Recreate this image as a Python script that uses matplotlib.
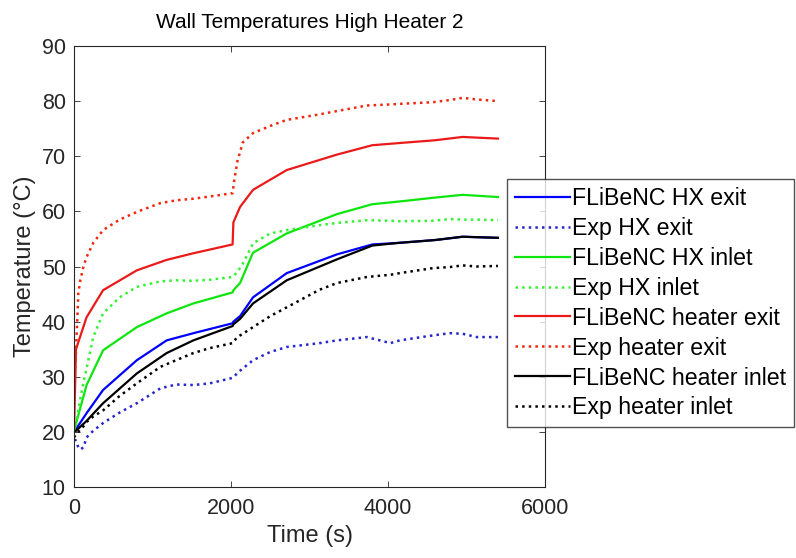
import numpy as np
import matplotlib
matplotlib.use("Agg")
import matplotlib.pyplot as plt

#=========================================================================================
# data (time in s, temperature in degC)
t_sim = [0, 25, 160, 370, 800, 1180, 1520, 2020, 2030, 2115, 2280, 2710, 3350, 3800, 4150, 4600, 4950, 5400]
sim_hx_exit = [20, 20.5, 23.4, 27.6, 33, 36.6, 37.9, 39.7, 40, 41, 44.4, 48.8, 52.2, 54, 54.3, 54.8, 55.4, 55.2]
sim_hx_inlet = [20, 21.5, 28.5, 34.8, 39, 41.5, 43.3, 45.3, 45.7, 47, 52.5, 56, 59.5, 61.3, 61.8, 62.5, 63, 62.6]
sim_heater_exit = [20, 35, 40.8, 45.7, 49.3, 51.2, 52.4, 54, 58, 60.8, 63.9, 67.5, 70.3, 72, 72.4, 72.9, 73.5, 73.2]
sim_heater_inlet = [20, 20.2, 22, 25.2, 30.6, 34.3, 36.6, 39.2, 39.5, 40.5, 43.3, 47.5, 51.3, 53.8, 54.3, 54.8, 55.4, 55.2]

t_exp = [0, 20, 55, 80, 120, 160, 245, 370, 580, 800, 1100, 1300, 1520, 1730, 2020, 2040, 2080, 2150,
         2280, 2500, 2710, 3130, 3350, 3730, 4030, 4150, 4570, 4790, 4950, 5130, 5400]
exp_hx_exit = [18.5, 18.5, 17.2, 16.8, 17.2, 19, 20.2, 21.6, 23.5, 25.2, 27.9, 28.6, 28.5, 28.8, 29.8, 30, 30.7, 31.5,
               33, 34.5, 35.4, 36.1, 36.6, 37.2, 36.1, 36.6, 37.5, 37.9, 37.8, 37.2, 37.2]
exp_hx_inlet = [20, 21, 24, 26, 29, 31.5, 37.2, 41.5, 44.4, 46.3, 47.3, 47.5, 47.4, 47.6, 48.1, 48.4, 49, 50.5,
                54.2, 56, 56.6, 57.5, 57.9, 58.4, 58.3, 58.2, 58.3, 58.6, 58.5, 58.5, 58.4]
exp_heater_exit = [28, 33, 45.2, 47.5, 50, 51.7, 54.3, 56.6, 58.5, 59.9, 61.5, 62, 62.3, 62.7, 63.3, 65.5, 69, 72.5,
                   74.2, 75.5, 76.6, 77.6, 78.2, 79.2, 79.4, 79.5, 79.8, 80.2, 80.6, 80.3, 80.0]
exp_heater_inlet = [19, 19.5, 20, 20.5, 21, 21.8, 22.8, 23.9, 26.5, 28.8, 31.8, 33, 34.3, 35.2, 36.1, 36.5, 37.2, 37.8,
                    39, 41, 42.6, 45.8, 47, 48.1, 48.5, 48.8, 49.7, 49.9, 50.2, 50, 50.1]

labels = ['FLiBeNC HX exit', 'Exp HX exit', 'FLiBeNC HX inlet', 'Exp HX inlet',
          'FLiBeNC heater exit', 'Exp heater exit', 'FLiBeNC heater inlet', 'Exp heater inlet']

#=========================================================================================
plt.rcParams['font.family'] = ['Liberation Sans', 'DejaVu Sans']

fig = plt.figure(figsize=(7.96, 5.58), dpi=100)
ax = fig.add_axes([0.093, 0.1272, 0.5917, 0.7904])

gray = (0.15, 0.15, 0.15)
series = [
    (t_sim, sim_hx_exit, 'blue', '-'),
    (t_exp, exp_hx_exit, (0.15, 0.15, 0.8), ':'),
    (t_sim, sim_hx_inlet, (0.05, 0.9, 0.05), '-'),
    (t_exp, exp_hx_inlet, (0.2, 0.95, 0.2), ':'),
    (t_sim, sim_heater_exit, (0.92, 0.1, 0.1), '-'),
    (t_exp, exp_heater_exit, (0.95, 0.15, 0.05), ':'),
    (t_sim, sim_heater_inlet, 'black', '-'),
    (t_exp, exp_heater_inlet, 'black', ':'),
]
for (x, y, c, ls), lab in zip(series, labels):
    lw = 1.6 if ls == '-' else 1.8
    ax.plot(x, y, color=c, linestyle=ls, linewidth=lw, label=lab)

ax.set_xlim(0, 6000)
ax.set_ylim(10, 90)
ax.set_xticks([0, 2000, 4000, 6000])
ax.set_yticks(np.arange(10, 91, 10))
ax.tick_params(direction='in', top=True, right=True, colors=gray, labelsize=15.5, length=4, width=0.6)
ax.tick_params(axis='x', pad=8)
ax.tick_params(axis='y', pad=6)
for sp in ax.spines.values():
    sp.set_color(gray)
    sp.set_linewidth(0.8)

ax.set_title('Wall Temperatures High Heater 2', fontsize=15, color='black', pad=13)
ax.set_xlabel('Time (s)', fontsize=17, color=gray, labelpad=4)
ax.set_ylabel('Temperature (°C)', fontsize=17, color=gray, labelpad=4)

leg = ax.legend(loc='upper left', bbox_to_anchor=(0.637, 0.679), bbox_transform=fig.transFigure,
                fontsize=16.7, frameon=True, fancybox=False, handlelength=2.4, handletextpad=0.09,
                labelspacing=0.3, borderpad=0.33, borderaxespad=0)
leg.get_frame().set_edgecolor(gray)
leg.get_frame().set_linewidth(1.0)

fig.savefig('out.png', dpi=100)
